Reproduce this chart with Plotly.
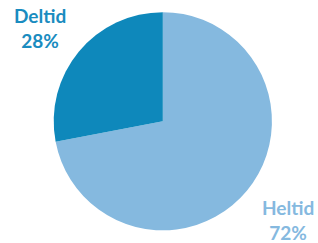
import plotly.graph_objects as go

labels = ["Heltid", "Deltid"]
values = [72, 28]
colors = ["#85b9df", "#0e88bb"]
label_colors = ["#85b9df", "#1a8cc0"]

fig = go.Figure()
fig.add_trace(go.Pie(
    labels=labels, values=values, sort=False, direction="clockwise", rotation=0,
    marker=dict(colors=colors, line=dict(width=0)),
    textinfo="none", hoverinfo="label+percent", showlegend=False,
    domain=dict(x=[0.168, 0.856], y=[0.052, 0.950]),
))

pos = {"Heltid": (0.906, 0.095), "Deltid": (0.126, 0.885)}
for lab, val, col in zip(labels, values, label_colors):
    x, y = pos[lab]
    fig.add_annotation(
        x=x, y=y, xref="paper", yref="paper", showarrow=False,
        text=f"<b>{lab}<br>{val}%</b>", align="center",
        font=dict(family="Lato", size=19, color=col),
        xanchor="center", yanchor="middle",
    )

fig.update_layout(
    width=318, height=243, margin=dict(l=0, r=0, t=0, b=0),
    paper_bgcolor="white", plot_bgcolor="white",
)
fig.write_html(
    "out.html",
    config={"displayModeBar": False},
    post_script="document.body.style.margin='0';document.body.style.overflow='hidden';",
)
